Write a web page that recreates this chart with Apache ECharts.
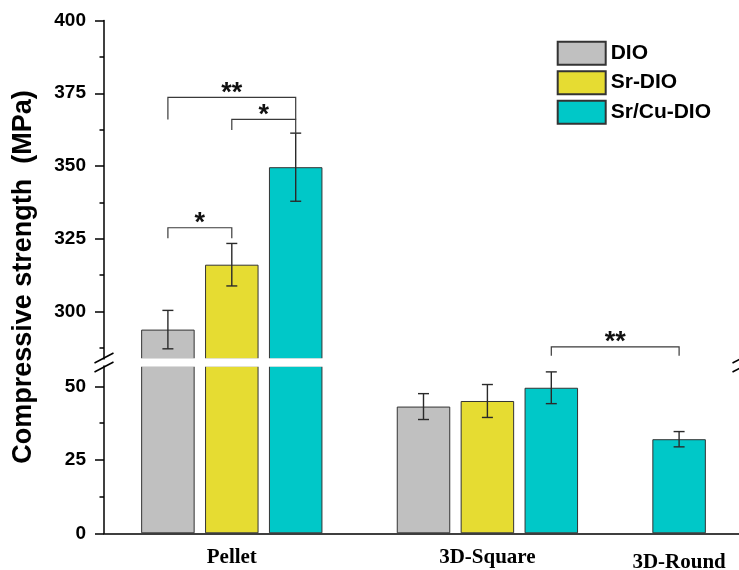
<!DOCTYPE html>
<html><head><meta charset="utf-8">
<script src="https://cdn.jsdelivr.net/npm/echarts@6/dist/echarts.min.js"></script>
<style>html,body{margin:0;padding:0;background:#fff}#c{width:739px;height:570px}</style>
</head><body><div id="c"></div>
<script>
// ---- data ----
const groups = ['Pellet', '3D-Square', '3D-Round'];
const seriesNames = ['DIO', 'Sr-DIO', 'Sr/Cu-DIO'];
const dioMean = [293.8, 43.1, null];
const dioSD = [6.6, 4.4, null];
const srMean = [316.1, 45.0, null];
const srSD = [7.3, 5.6, null];
const srcuMean = [349.6, 49.5, 32.0];
const srcuSD = [11.7, 5.4, 2.6];
const upperTicks = [300, 325, 350, 375, 400];
const lowerTicks = [0, 25, 50];
const upperRange = [283.7, 400];
const lowerRange = [0, 56.9];
// significance brackets: endpoints as [group, series]
const sigFrom = [[0, 0], [0, 1], [0, 0], [1, 2]];
const sigTo = [[0, 1], [0, 2], [0, 2], [2, 2]];
const sigLevel = [328.8, 366.0, 373.6, 287.9];
const sigLeftEnd = [325.2, 362.4, 366.0, 284.8];
const sigRightEnd = [325.2, 361.3, 366.0, 284.8];
const sigText = ['*', '*', '**', '**'];

// ---- styles ----
const colors = ['#C0C0C0', '#E6DC32', '#00C8C8'];
const FONT = "'Liberation Sans', Arial, sans-serif";
const SERIF = "'Liberation Serif', 'Times New Roman', serif";
const means = [dioMean, srMean, srcuMean];
const sds = [dioSD, srSD, srcuSD];

// slot layout: bars consecutive within a group, one empty slot between groups
const slotOf = groups.map(() => [null, null, null]);
const groupCenters = [];
let slot = 1;
groups.forEach((g, gi) => {
  const used = [];
  seriesNames.forEach((s, si) => {
    if (means[si][gi] != null) { slotOf[gi][si] = slot; used.push(slot); slot++; }
  });
  groupCenters.push(used.reduce((a, b) => a + b, 0) / used.length);
  slot++;
});

const minorOf = (ticks, range, step) => {
  const out = [];
  ticks.forEach(t => { const m = t - step / 2; if (m > range[0] && m < range[1]) out.push(m); });
  return out;
};

const GL = 104, GW = 639;
const UT = 20.5, UB = 359, LT = 366, LB = 533.3;
const upperGrid = { left: GL, top: UT, width: GW, height: UB - UT, outerBoundsMode: 'none', containLabel: false };
const lowerGrid = { left: GL, top: LT, width: GW, height: LB - LT, outerBoundsMode: 'none', containLabel: false };

function errRender(params, api) {
  const x = api.value(0), m = api.value(1), e = api.value(2);
  const top = api.coord([x, m + e]);
  const bot = api.coord([x, m - e]);
  const cap = 5.5;
  const st = { stroke: '#2a2a2a', lineWidth: 1.4 };
  return { type: 'group', children: [
    { type: 'line', shape: { x1: top[0], y1: top[1], x2: bot[0], y2: bot[1] }, style: st },
    { type: 'line', shape: { x1: top[0] - cap, y1: top[1], x2: top[0] + cap, y2: top[1] }, style: st },
    { type: 'line', shape: { x1: bot[0] - cap, y1: bot[1], x2: bot[0] + cap, y2: bot[1] }, style: st }
  ]};
}

function bracketRender(params, api) {
  const x1 = api.value(0), x2 = api.value(1), lv = api.value(2), le = api.value(3), re = api.value(4);
  const a = api.coord([x1, le]), b = api.coord([x1, lv]), c = api.coord([x2, lv]), d = api.coord([x2, re]);
  return { type: 'group', children: [
    { type: 'polyline', shape: { points: [a, b, c, d] }, style: { stroke: '#3a3a3a', lineWidth: 1.2, fill: null } },
    { type: 'text', x: (b[0] + c[0]) / 2, y: b[1] - 4, style: {
      text: sigText[params.dataIndex], font: 'bold 27px ' + FONT, fill: '#111',
      align: 'center', verticalAlign: 'middle' } }
  ]};
}

const series = [];
seriesNames.forEach((name, si) => {
  const up = [], lo = [], errUp = [], errLo = [];
  groups.forEach((g, gi) => {
    const m = means[si][gi];
    if (m == null) return;
    const x = slotOf[gi][si];
    if (m > upperRange[0]) { up.push([x, m]); errUp.push([x, m, sds[si][gi]]); }
    lo.push([x, m]);
    if (m < lowerRange[1]) errLo.push([x, m, sds[si][gi]]);
  });
  const itemStyle = { color: colors[si], borderColor: '#333', borderWidth: 1 };
  series.push({ name, type: 'bar', xAxisIndex: 0, yAxisIndex: 0, data: up, barWidth: 53.5, barGap: '-100%', itemStyle, clip: true });
  series.push({ name, type: 'bar', xAxisIndex: 1, yAxisIndex: 2, data: lo, barWidth: 53.5, barGap: '-100%', itemStyle, clip: true });
  series.push({ name: 'err-up-' + si, type: 'custom', xAxisIndex: 0, yAxisIndex: 0, data: errUp, renderItem: errRender, z: 5, encode: { x: 0, y: 1 } });
  series.push({ name: 'err-lo-' + si, type: 'custom', xAxisIndex: 1, yAxisIndex: 2, data: errLo, renderItem: errRender, z: 5, encode: { x: 0, y: 1 } });
});
const bracketData = sigText.map((t, i) => [
  slotOf[sigFrom[i][0]][sigFrom[i][1]], slotOf[sigTo[i][0]][sigTo[i][1]],
  sigLevel[i], sigLeftEnd[i], sigRightEnd[i]
]);
series.push({ name: 'sig', type: 'custom', xAxisIndex: 0, yAxisIndex: 0, data: bracketData, renderItem: bracketRender, z: 6, encode: { x: [0, 1], y: [2, 3, 4] } });

const axisLineStyle = { color: '#000', width: 1.5 };
const yMain = (gridIndex, range, ticks) => ({
  type: 'value', gridIndex, min: range[0], max: range[1], position: 'left',
  axisLine: { show: true, lineStyle: axisLineStyle },
  axisTick: { show: true, inside: false, length: 9, customValues: ticks, lineStyle: axisLineStyle },
  axisLabel: { show: true, customValues: ticks, margin: 18, color: '#000', fontFamily: FONT, fontWeight: 'bold', fontSize: 19 },
  splitLine: { show: false }
});
const yMinor = (gridIndex, range, ticks) => ({
  type: 'value', gridIndex, min: range[0], max: range[1], position: 'left',
  axisLine: { show: false },
  axisTick: { show: true, inside: false, length: 4.5, customValues: minorOf(ticks, range, 25), lineStyle: axisLineStyle },
  axisLabel: { show: false }, splitLine: { show: false }
});

const gapMid = (UB + LT) / 2;
const slash = (cx, dy) => ({ type: 'line', z: 51,
  shape: { x1: cx - 9.5, y1: gapMid + dy + 5, x2: cx + 9.5, y2: gapMid + dy - 5 },
  style: { stroke: '#000', lineWidth: 1.5 } });

const option = {
  animation: false,
  backgroundColor: '#fff',
  grid: [upperGrid, lowerGrid],
  xAxis: [
    { type: 'value', gridIndex: 0, min: 0, max: 10, show: false },
    { type: 'value', gridIndex: 1, min: 0, max: 10,
      axisLine: { show: true, lineStyle: axisLineStyle }, axisTick: { show: false }, splitLine: { show: false },
      axisLabel: { show: true, customValues: groupCenters, margin: 14, color: '#000', fontFamily: SERIF, fontWeight: 'bold', fontSize: 21,
        formatter: v => { const i = groupCenters.findIndex(c => Math.abs(c - v) < 1e-6); return i < 0 ? '' : (i === 2 ? '{low|' + groups[i] + '}' : groups[i]); },
        rich: { low: { fontFamily: SERIF, fontWeight: 'bold', fontSize: 21, color: '#000', padding: [5, 0, 0, 0] } } } }
  ],
  yAxis: [
    yMain(0, upperRange, upperTicks), yMinor(0, upperRange, upperTicks),
    yMain(1, lowerRange, lowerTicks), yMinor(1, lowerRange, lowerTicks)
  ],
  legend: {
    data: seriesNames, orient: 'vertical', left: 556.7, top: 40.7, padding: 0,
    itemWidth: 48, itemHeight: 23, itemGap: 4.5, icon: 'rect',
    textStyle: { color: '#000', fontFamily: FONT, fontWeight: 'bold', fontSize: 21 }
  },
  graphic: [
    { type: 'text', x: 24, y: 277, rotation: Math.PI / 2,
      style: { text: 'Compressive strength  (MPa)', font: 'bold 27px ' + FONT, fill: '#000', align: 'center', verticalAlign: 'middle' } },
    { type: 'rect', z: 50, shape: { x: GL + 1.5, y: UB - 0.7, width: GW, height: LT - UB + 1.4 }, style: { fill: '#fff' } },
    slash(GL, -4.5), slash(GL, 4.5),
    slash(GL + GW - 1, -4.5), slash(GL + GW - 1, 4.5)
  ],
  series
};
echarts.init(document.getElementById('c'), null, { renderer: 'canvas' }).setOption(option);
</script></body></html>
